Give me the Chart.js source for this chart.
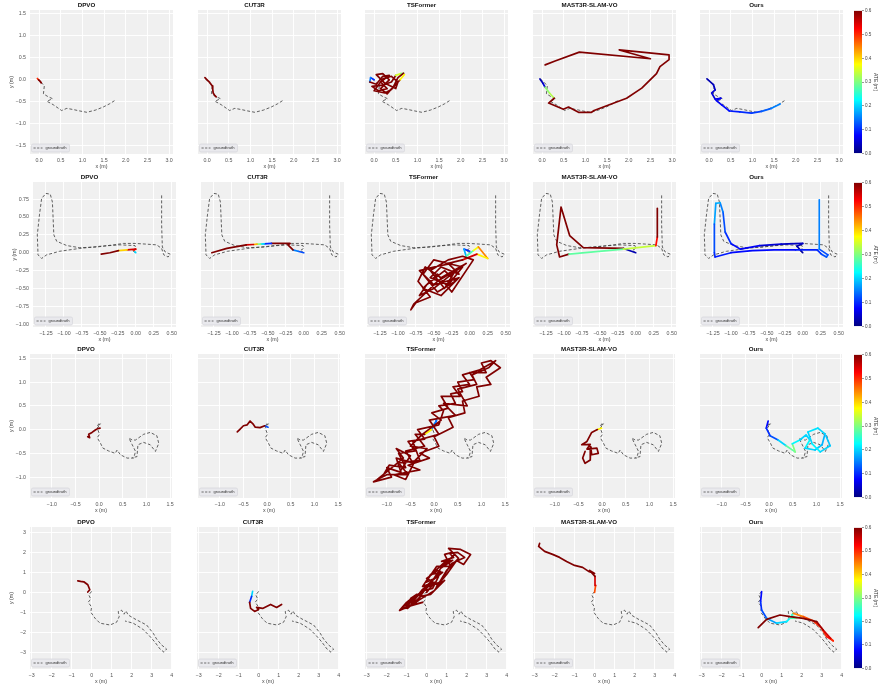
<!DOCTYPE html>
<html>
<head>
<meta charset="utf-8">
<script src="https://cdn.jsdelivr.net/npm/chart.js@4.4.1/dist/chart.umd.min.js"></script>
<style>
  body { margin: 0; background: #fff; width: 878px; height: 688px; position: relative; overflow: hidden; }
  canvas { position: absolute; }
</style>
</head>
<body>
<script>
// ---- data (metres) ----
const methods = ['DPVO', 'CUT3R', 'TSFormer', 'MAST3R-SLAM-VO', 'Ours'];

// ground truth per sequence
const gt1 = [[-0.04,0.02],[0.05,-0.06],[0.12,-0.14],[0.10,-0.32],[0.20,-0.38],[0.31,-0.43],[0.18,-0.49],[0.26,-0.53],[0.33,-0.57],[0.52,-0.70],[0.64,-0.65],[0.80,-0.68],[0.94,-0.71],[1.10,-0.74],[1.30,-0.69],[1.48,-0.62],[1.62,-0.55],[1.75,-0.47]];
const gt2 = [[0.0,0.0],[-0.05,0.03],[0.0,0.06],[-0.01,0.10],[-0.22,0.11],[-0.50,0.09],[-0.78,0.06],[-1.06,0.02],[-1.24,-0.03],[-1.31,-0.08],[-1.36,-0.03],[-1.37,0.25],[-1.34,0.53],[-1.31,0.76],[-1.25,0.83],[-1.19,0.82],[-1.16,0.71],[-1.15,0.48],[-1.14,0.25],[-1.10,0.16],[-0.96,0.10],[-0.78,0.07],[-0.54,0.08],[-0.31,0.11],[-0.17,0.13],[-0.01,0.13],[0.15,0.12],[0.29,0.11],[0.36,0.06],[0.39,-0.03],[0.45,-0.06],[0.48,-0.02],[0.41,0.01],[0.37,0.08],[0.36,0.39],[0.36,0.81]];
const gt3 = [[0.0,0.13],[-0.04,0.07],[0.03,0.12],[-0.04,0.03],[0.01,-0.10],[-0.04,-0.17],[0.03,-0.29],[0.08,-0.39],[0.20,-0.45],[0.34,-0.50],[0.38,-0.43],[0.45,-0.53],[0.59,-0.60],[0.73,-0.60],[0.77,-0.46],[0.70,-0.32],[0.63,-0.18],[0.70,-0.22],[0.77,-0.22],[0.94,-0.10],[1.08,-0.06],[1.22,-0.13],[1.26,-0.29],[1.19,-0.46],[1.08,-0.32],[0.94,-0.27],[0.82,-0.32],[0.80,-0.57],[0.70,-0.59]];
const gt4 = [[0.0,0.05],[-0.14,-0.13],[-0.04,-0.33],[-0.17,-0.49],[0.0,-0.73],[-0.04,-0.99],[0.17,-1.29],[0.42,-1.54],[0.92,-1.63],[1.25,-1.49],[1.38,-1.21],[1.33,-0.96],[1.50,-0.89],[1.62,-1.09],[1.72,-0.93],[1.83,-1.13],[2.17,-1.33],[2.75,-1.63],[3.08,-2.04],[3.25,-2.33],[3.50,-2.63],[3.75,-2.83],[3.62,-2.99],[3.42,-2.83],[3.17,-2.49],[2.88,-2.16],[2.55,-1.83],[2.08,-1.54],[1.67,-1.43]];

// sequence 1 estimates + per-point ATE
const dpvo1 = [[-0.04,0.03],[-0.01,0.0],[0.02,-0.03],[0.05,-0.07]];
const dpvo1Err = [0.5,0.8,0.8,0.8];
const cut3r1 = [[-0.05,0.05],[0.0,0.0],[0.06,-0.06],[0.12,-0.14],[0.13,-0.22],[0.14,-0.30],[0.18,-0.36],[0.21,-0.39]];
const cut3r1Err = [0.8,0.8,0.8,0.8,0.8,0.8,0.8,0.8];
const tsf1 = [[0.0,0.0],[-0.08,0.05],[-0.1,-0.05],[0.05,-0.1],[0.2,0.08],[0.35,0.1],[0.15,-0.05],[0.3,-0.2],[0.1,-0.25],[-0.05,-0.15],[0.2,-0.12],[0.4,-0.05],[0.5,0.1],[0.62,0.14],[0.68,0.15],[0.55,0.05],[0.45,-0.15],[0.3,-0.32],[0.15,-0.2],[0.35,0.0],[0.2,0.14],[0.05,0.12],[0.25,-0.08],[0.5,-0.2],[0.55,-0.05],[0.4,0.08],[0.2,0.02],[0.0,-0.25],[0.25,-0.3],[0.4,-0.22],[0.6,0.0],[0.7,0.12]];
const tsf1Err = [0.1,0.15,0.8,0.8,0.8,0.8,0.8,0.8,0.8,0.8,0.8,0.8,0.35,0.3,0.8,0.8,0.8,0.8,0.8,0.8,0.8,0.8,0.8,0.8,0.8,0.8,0.8,0.8,0.8,0.8,0.38,0.38];
const mast1 = [[-0.05,0.02],[0.02,-0.08],[0.07,-0.17],[0.17,-0.3],[0.28,-0.42],[0.15,-0.53],[0.49,-0.67],[0.61,-0.62],[0.84,-0.74],[1.14,-0.74],[1.2,-0.7],[1.49,-0.59],[1.95,-0.42],[2.30,-0.19],[2.64,0.14],[2.72,0.30],[2.93,0.46],[2.93,0.57],[1.78,0.68],[2.50,0.48],[0.86,0.63],[0.30,0.43],[0.07,0.34]];
const mast1Err = [0.03,0.05,0.31,0.33,0.8,0.8,0.8,0.8,0.8,0.8,0.8,0.8,0.8,0.8,0.8,0.8,0.8,0.8,0.8,0.8,0.8,0.8,0.8];
const ours1 = [[-0.05,0.02],[0.10,-0.11],[0.14,-0.23],[0.06,-0.30],[0.14,-0.44],[0.27,-0.42],[0.16,-0.47],[0.29,-0.57],[0.47,-0.71],[0.71,-0.73],[0.98,-0.76],[1.21,-0.72],[1.44,-0.65],[1.64,-0.55]];
const ours1Err = [0.03,0.04,0.05,0.05,0.06,0.07,0.07,0.08,0.09,0.1,0.11,0.13,0.15,0.17];

// sequence 2
const dpvo2 = [[0.0,0.0],[-0.03,0.03],[0.0,0.05],[-0.12,0.04],[-0.24,0.03],[-0.36,0.0],[-0.48,-0.02]];
const dpvo2Err = [0.2,0.5,0.55,0.4,0.8,0.8,0.8];
const cut3r2 = [[0.0,0.0],[-0.08,0.02],[-0.15,0.04],[-0.22,0.11],[-0.19,0.13],[-0.3,0.13],[-0.45,0.13],[-0.55,0.125],[-0.6,0.12],[-0.65,0.12],[-0.7,0.115],[-0.8,0.11],[-1.07,0.06],[-1.28,0.0]];
const cut3r2Err = [0.12,0.15,0.8,0.8,0.8,0.8,0.1,0.2,0.3,0.42,0.55,0.8,0.8,0.8];
const tsf2 = [[0.0,0.02],[-0.08,0.05],[-0.05,-0.05],[0.05,0.03],[0.12,0.08],[0.25,-0.08],[0.1,-0.02],[-0.1,-0.1],[-0.3,-0.15],[-0.15,-0.3],[-0.4,-0.2],[-0.55,-0.35],[-0.3,-0.45],[-0.1,-0.2],[-0.5,-0.1],[-0.65,-0.3],[-0.45,-0.55],[-0.2,-0.4],[-0.35,-0.25],[-0.6,-0.45],[-0.7,-0.6],[-0.5,-0.5],[-0.25,-0.3],[-0.05,-0.15],[-0.4,-0.35],[-0.62,-0.2],[-0.72,-0.4],[-0.55,-0.62],[-0.75,-0.7],[-0.82,-0.8],[-0.78,-0.72],[-0.6,-0.55],[-0.45,-0.4],[-0.2,-0.25],[-0.35,-0.5],[-0.55,-0.25],[-0.3,-0.1],[-0.1,-0.05],[0.05,-0.1],[-0.25,-0.55],[-0.45,-0.3],[-0.65,-0.5],[-0.4,-0.6],[-0.15,-0.35],[-0.5,-0.45],[-0.7,-0.25],[-0.5,-0.2],[-0.25,-0.15]];
const tsf2Err = [0.1,0.18,0.27,0.37,0.45,0.38,0.55,0.8,0.8,0.8,0.8,0.8,0.8,0.8,0.8,0.8,0.8,0.8,0.8,0.8,0.8,0.8,0.8,0.8,0.8,0.8,0.8,0.8,0.8,0.8,0.8,0.8,0.8,0.8,0.8,0.8,0.8,0.8,0.8,0.8,0.8,0.8,0.8,0.8,0.8,0.8,0.8,0.8];
const mast2 = [[0.0,0.0],[-0.17,0.06],[-0.73,0.07],[-0.92,0.24],[-1.04,0.64],[-1.10,0.11],[-1.06,-0.06],[-0.93,-0.02],[-0.17,0.05],[0.28,0.10],[0.30,0.22],[0.30,0.62]];
const mast2Err = [0.03,0.8,0.8,0.8,0.8,0.8,0.8,0.28,0.34,0.52,0.8,0.8];
const ours2 = [[0.0,0.0],[-0.08,0.09],[0.0,0.13],[-0.3,0.12],[-0.6,0.10],[-0.87,0.05],[-1.0,0.13],[-1.08,0.29],[-1.11,0.57],[-1.15,0.70],[-1.21,0.69],[-1.23,0.40],[-1.23,0.0],[-1.22,-0.06],[-1.0,0.0],[-0.7,0.03],[-0.4,0.04],[-0.1,0.04],[0.2,0.04],[0.26,-0.02],[0.33,-0.06],[0.35,-0.03],[0.23,0.05],[0.23,0.74]];
const ours2Err = [0.02,0.03,0.04,0.05,0.07,0.08,0.1,0.12,0.15,0.18,0.17,0.12,0.1,0.09,0.08,0.08,0.08,0.09,0.1,0.12,0.13,0.12,0.15,0.2];

// sequence 3
const dpvo3 = [[0.02,0.03],[-0.03,0.02],[-0.08,-0.01],[-0.15,-0.06],[-0.22,-0.10],[-0.20,-0.17],[-0.24,-0.15]];
const dpvo3Err = [0.8,0.8,0.8,0.8,0.8,0.8,0.8];
const cut3r3 = [[0.02,0.05],[-0.05,0.08],[-0.15,0.04],[-0.25,0.05],[-0.3,0.12],[-0.36,0.18],[-0.42,0.1],[-0.5,0.08],[-0.58,0.0],[-0.63,-0.05]];
const cut3r3Err = [0.12,0.8,0.8,0.8,0.8,0.8,0.8,0.8,0.8,0.8];
const tsf3 = [[0.0,0.05],[0.05,0.2],[-0.05,0.0],[-0.2,-0.1],[-0.4,-0.1],[-0.2,-0.35],[-0.6,-0.45],[-0.45,-0.7],[-0.8,-0.6],[-0.7,-0.9],[-1.0,-0.8],[-0.9,-1.0],[-1.28,-1.1],[-1.1,-1.0],[-0.95,-0.75],[-0.6,-0.8],[-0.75,-0.5],[-0.4,-0.45],[-0.55,-0.25],[-0.2,-0.2],[-0.35,0.0],[0.1,0.1],[0.2,0.4],[0.1,0.5],[0.45,0.55],[0.35,0.75],[0.6,0.8],[0.5,1.0],[0.85,1.05],[0.75,1.2],[1.1,1.2],[1.0,1.4],[1.2,1.45],[1.4,1.3],[1.1,1.1],[1.2,0.95],[0.9,0.9],[0.95,0.7],[0.6,0.6],[0.65,0.35],[0.3,0.25],[0.4,0.05],[0.0,-0.15],[0.1,-0.35],[-0.3,-0.5],[-0.1,-0.6],[-0.55,-0.75],[-0.3,-0.85],[-0.85,-0.95],[-0.6,-1.05],[-0.4,-0.65],[-0.15,-0.4],[-0.5,-0.35],[-0.25,-0.1],[0.15,0.2],[-0.05,0.35],[0.3,0.45],[0.15,0.7],[0.55,0.7],[0.4,0.9],[0.75,0.95],[0.6,1.15],[0.95,1.25],[1.3,1.45],[1.15,1.3],[0.8,1.15],[0.9,0.95],[0.5,0.85],[0.7,0.5],[0.2,0.55],[0.45,0.3],[-0.1,0.2],[0.1,-0.1],[-0.45,-0.25],[-0.3,-0.65],[-0.75,-0.7],[-0.55,-0.95],[-1.0,-0.95],[-1.2,-1.05],[-0.95,-0.85],[-0.65,-0.6],[-0.8,-0.4],[-0.5,-0.55],[-0.7,-0.85]];
const tsf3Err = [0.08,0.15,0.38,0.8,0.8,0.8,0.8,0.8,0.8,0.8,0.8,0.8,0.8,0.8,0.8,0.8,0.8,0.8,0.8,0.8,0.8,0.8,0.8,0.8,0.8,0.8,0.8,0.8,0.8,0.8,0.8,0.8,0.8,0.8,0.8,0.8,0.8,0.8,0.8,0.8,0.8,0.8,0.8,0.8,0.8,0.8,0.8,0.8,0.8,0.8,0.8,0.8,0.8,0.8,0.8,0.8,0.8,0.8,0.8,0.8,0.8,0.8,0.8,0.8,0.8,0.8,0.8,0.8,0.8,0.8,0.8,0.8,0.8,0.8,0.8,0.8,0.8,0.8,0.8,0.8,0.8,0.8,0.8,0.8];
const mast3 = [[-0.01,0.03],[-0.1,0.0],[-0.22,-0.06],[-0.32,-0.25],[-0.43,-0.32],[-0.25,-0.31],[-0.32,-0.41],[-0.11,-0.39],[-0.08,-0.50],[-0.22,-0.53],[-0.24,-0.36],[-0.25,-0.64],[-0.36,-0.71],[-0.41,-0.60],[-0.36,-0.46]];
const mast3Err = [0.38,0.8,0.8,0.8,0.8,0.8,0.8,0.8,0.8,0.8,0.8,0.8,0.8,0.8,0.8];
const ours3 = [[-0.02,0.18],[-0.06,0.03],[0.02,-0.13],[0.19,-0.22],[0.36,-0.34],[0.55,-0.47],[0.49,-0.30],[0.65,-0.22],[0.78,-0.11],[0.86,-0.22],[0.76,-0.39],[0.97,-0.43],[1.12,-0.32],[1.18,-0.09],[1.03,0.03],[0.82,-0.05],[0.91,-0.30],[1.08,-0.47],[1.29,-0.34],[1.20,-0.13]];
const ours3Err = [0.08,0.1,0.12,0.2,0.28,0.3,0.22,0.2,0.2,0.22,0.2,0.19,0.18,0.2,0.21,0.2,0.22,0.2,0.19,0.2];

// sequence 4
const dpvo4 = [[-0.19,0.02],[-0.09,0.13],[-0.19,0.38],[-0.39,0.53],[-0.55,0.55],[-0.69,0.58]];
const dpvo4Err = [0.8,0.8,0.8,0.8,0.8,0.8];
const cut3r4 = [[-0.3,0.05],[-0.35,-0.2],[-0.45,-0.5],[-0.4,-0.8],[-0.2,-0.95],[0.0,-0.85],[-0.1,-0.75],[0.2,-0.8],[0.6,-0.6],[0.9,-0.75],[1.15,-0.6]];
const cut3r4Err = [0.2,0.1,0.8,0.8,0.8,0.8,0.8,0.8,0.8,0.8,0.8];
const tsf4 = [[0.0,0.0],[0.4,0.5],[-0.2,0.3],[0.2,0.9],[0.8,1.0],[0.3,0.6],[0.9,1.5],[1.3,1.6],[0.7,1.2],[1.4,1.9],[1.1,2.2],[1.7,2.15],[2.2,1.9],[1.85,1.4],[1.5,1.6],[1.0,0.9],[0.5,0.3],[0.9,0.6],[0.2,-0.1],[-0.3,-0.2],[-0.6,-0.6],[-0.2,-0.5],[-0.9,-0.7],[-1.35,-0.9],[-1.0,-0.5],[-0.5,-0.1],[-0.8,-0.3],[-0.1,0.1],[0.3,0.2],[0.6,0.8],[-0.05,0.5],[0.5,1.3],[1.2,1.3],[0.9,1.9],[1.3,2.0],[1.6,1.7],[1.0,1.1],[0.4,0.1],[-0.4,-0.4],[-1.1,-0.8],[-0.6,-0.3],[-0.2,0.0],[0.3,0.55],[0.0,0.7],[0.55,1.1],[0.35,1.0],[1.0,1.6],[0.75,1.55],[1.35,1.75],[1.15,1.95],[1.55,2.0],[1.9,1.75],[1.25,1.45],[0.65,0.5],[0.1,0.3],[-0.45,-0.15],[-1.2,-0.75],[-0.95,-0.8],[-0.4,-0.3],[0.15,0.45],[0.7,1.05],[0.45,0.75],[-0.25,0.1],[-0.75,-0.55],[-0.35,-0.05]];
const tsf4Err = [0.8,0.8,0.8,0.8,0.8,0.8,0.8,0.8,0.8,0.8,0.8,0.8,0.8,0.8,0.8,0.8,0.8,0.8,0.8,0.8,0.8,0.8,0.8,0.8,0.8,0.8,0.8,0.8,0.8,0.8,0.8,0.8,0.8,0.8,0.8,0.8,0.8,0.8,0.8,0.8,0.8,0.8,0.8,0.8,0.8,0.8,0.8,0.8,0.8,0.8,0.8,0.8,0.8,0.8,0.8,0.8,0.8,0.8,0.8,0.8,0.8,0.8,0.8,0.8,0.8];
const mast4 = [[0.0,0.0],[0.05,0.35],[0.02,0.8],[-0.25,1.1],[0.0,0.95],[-0.3,1.05],[-0.6,1.25],[-1.0,1.35],[-1.4,1.55],[-1.75,1.75],[-2.1,1.9],[-2.5,2.05],[-2.8,2.3],[-2.75,2.45]];
const mast4Err = [0.48,0.55,0.8,0.8,0.8,0.8,0.8,0.8,0.8,0.8,0.8,0.8,0.8,0.8];
const ours4 = [[0.0,0.04],[-0.05,-0.46],[0.0,-0.88],[0.25,-1.29],[0.75,-1.54],[1.25,-1.46],[1.42,-1.29],[1.75,-1.29],[1.5,-1.15],[1.58,-1.04],[2.08,-1.21],[2.58,-1.42],[3.0,-1.79],[3.25,-2.21],[3.58,-2.42],[3.45,-2.3],[3.08,-1.88],[2.75,-1.46],[2.08,-1.3],[1.42,-1.21],[0.92,-1.13],[0.25,-1.35],[-0.17,-1.76]];
const ours4Err = [0.08,0.1,0.12,0.17,0.2,0.22,0.27,0.3,0.25,0.45,0.48,0.5,0.5,0.52,0.5,0.55,0.58,0.6,0.8,0.8,0.8,0.8,0.8];

// axis ranges and tick values per row
const xRanges = [[-0.21, 3.09], [-1.43, 0.56], [-1.46, 1.54], [-3.08, 4.02]];
const yRanges = [[-1.69, 1.59], [-1.04, 0.99], [-1.44, 1.59], [-3.83, 3.27]];
const xTicks = [[0, 0.5, 1, 1.5, 2, 2.5, 3], [-1.25, -1, -0.75, -0.5, -0.25, 0, 0.25, 0.5], [-1, -0.5, 0, 0.5, 1, 1.5], [-3, -2, -1, 0, 1, 2, 3, 4]];
const yTicks = [[-1.5, -1, -0.5, 0, 0.5, 1, 1.5], [-1, -0.75, -0.5, -0.25, 0, 0.25, 0.5, 0.75], [-1, -0.5, 0, 0.5, 1, 1.5], [-3, -2, -1, 0, 1, 2, 3]];
const tickDecimals = [1, 2, 1, 0];
const cbarTicks = [0, 0.1, 0.2, 0.3, 0.4, 0.5, 0.6];
const cbarMax = 0.6;

const gts = [gt1, gt2, gt3, gt4];
const preds = [
  [dpvo1, cut3r1, tsf1, mast1, ours1],
  [dpvo2, cut3r2, tsf2, mast2, ours2],
  [dpvo3, cut3r3, tsf3, mast3, ours3],
  [dpvo4, cut3r4, tsf4, mast4, ours4]
];
const errs = [
  [dpvo1Err, cut3r1Err, tsf1Err, mast1Err, ours1Err],
  [dpvo2Err, cut3r2Err, tsf2Err, mast2Err, ours2Err],
  [dpvo3Err, cut3r3Err, tsf3Err, mast3Err, ours3Err],
  [dpvo4Err, cut3r4Err, tsf4Err, mast4Err, ours4Err]
];

// ---- layout (page pixels of each plot area) ----
const rowTops = [10, 182, 354, 527];
const rowHeights = [144, 145, 144, 142];
const plotWidths = [143, 143, 142, 142];
const colLefts = [
  [30, 198, 365, 533, 700],
  [33, 201, 367, 533, 700],
  [30, 198, 365, 533, 700],
  [30, 197, 365, 533, 700]
];

const FAMILY = "'Liberation Sans', Arial, sans-serif";
const gtColor = 'rgba(60,60,60,0.8)';
Chart.defaults.font.family = FAMILY;

// jet colormap over 0..cbarMax
function jet(v) {
  const t = Math.max(0, Math.min(1, v / cbarMax));
  const c = x => Math.round(255 * Math.max(0, Math.min(1, x)));
  return 'rgb(' + c(1.5 - Math.abs(4 * t - 3)) + ',' + c(1.5 - Math.abs(4 * t - 2)) + ',' + c(1.5 - Math.abs(4 * t - 1)) + ')';
}

function fmt(v, d) {
  const s = Math.abs(v).toFixed(d);
  return (v < -1e-9 ? '\u2212' : '') + s;
}

function makeCanvas(left, top, w, h) {
  const cv = document.createElement('canvas');
  cv.width = w; cv.height = h;
  cv.style.left = left + 'px'; cv.style.top = top + 'px';
  cv.style.width = w + 'px'; cv.style.height = h + 'px';
  document.body.appendChild(cv);
  return cv;
}

const panelBg = {
  id: 'panelBg',
  beforeDraw(chart) {
    const { ctx, chartArea: a } = chart;
    ctx.save();
    ctx.fillStyle = '#f0f0f0';
    ctx.fillRect(a.left, a.top, a.right - a.left, a.bottom - a.top);
    ctx.restore();
  }
};

// small "groundtruth" legend box in the lower left corner
const gtLegend = {
  id: 'gtLegend',
  afterDraw(chart) {
    const { ctx, chartArea: a } = chart;
    const x = a.left + 1.5, y = a.bottom - 10, w = 38, h = 8;
    ctx.save();
    ctx.beginPath();
    ctx.roundRect(x, y, w, h, 1.5);
    ctx.fillStyle = 'rgba(232,232,236,0.9)';
    ctx.fill();
    ctx.strokeStyle = '#d2d2d6';
    ctx.lineWidth = 0.6;
    ctx.stroke();
    ctx.setLineDash([2.2, 1.4]);
    ctx.strokeStyle = gtColor;
    ctx.lineWidth = 0.9;
    ctx.beginPath();
    ctx.moveTo(x + 2, y + h / 2);
    ctx.lineTo(x + 11, y + h / 2);
    ctx.stroke();
    ctx.setLineDash([]);
    ctx.fillStyle = '#333';
    ctx.font = '4.1px ' + FAMILY;
    ctx.textBaseline = 'middle';
    ctx.fillText('groundtruth', x + 14, y + h / 2 + 0.2);
    ctx.restore();
  }
};

function toXY(arr) { return arr.map(p => ({ x: p[0], y: p[1] })); }

function addPanel(r, c) {
  const l = colLefts[r][c], t = rowTops[r], w = plotWidths[r], h = rowHeights[r];
  const cv = makeCanvas(l - 30, t - 10, 30 + w + 8, 10 + h + 18);
  const err = errs[r][c];
  const d = tickDecimals[r];
  const tickFont = { size: 5.3, family: FAMILY };
  new Chart(cv, {
    type: 'scatter',
    data: {
      datasets: [
        {
          data: toXY(preds[r][c]),
          showLine: true,
          borderWidth: 1.7,
          borderColor: jet(err[0]),
          borderCapStyle: 'round',
          borderJoinStyle: 'round',
          pointRadius: 0,
          segment: { borderColor: s => jet(err[s.p0DataIndex]) }
        },
        {
          data: toXY(gts[r]),
          showLine: true,
          borderWidth: 1,
          borderDash: [3, 2],
          borderColor: gtColor,
          pointRadius: 0
        }
      ]
    },
    options: {
      responsive: false,
      animation: false,
      devicePixelRatio: 1,
      events: [],
      layout: { padding: { left: 0, right: 8, top: 0, bottom: 0 } },
      plugins: {
        legend: { display: false },
        tooltip: { enabled: false },
        title: {
          display: true, text: methods[c], color: '#111',
          font: { size: 6.2, weight: 'bold', family: FAMILY, lineHeight: 1.2 },
          padding: { top: 2, bottom: 0.56 }
        }
      },
      scales: {
        x: {
          type: 'linear', min: xRanges[r][0], max: xRanges[r][1],
          afterFit: s => { s.height = 18; },
          afterBuildTicks: s => { s.ticks = xTicks[r].map(v => ({ value: v })); },
          grid: { color: '#ffffff', lineWidth: 0.9, drawTicks: false },
          border: { display: false },
          ticks: { font: tickFont, color: '#555', padding: 3, autoSkip: false, maxRotation: 0, callback: v => fmt(v, d) },
          title: { display: true, text: 'x (m)', color: '#444', font: { size: 5.3, family: FAMILY, lineHeight: 1.2 }, padding: { top: 0, bottom: 2.6 } }
        },
        y: {
          type: 'linear', min: yRanges[r][0], max: yRanges[r][1],
          afterFit: s => { s.width = 30; },
          afterBuildTicks: s => { s.ticks = yTicks[r].map(v => ({ value: v })); },
          grid: { color: '#ffffff', lineWidth: 0.9, drawTicks: false },
          border: { display: false },
          ticks: { display: c === 0, font: tickFont, color: '#555', padding: 4, autoSkip: false, callback: v => fmt(v, d) },
          title: { display: c === 0, text: 'y (m)', color: '#444', font: { size: 5.3, family: FAMILY, lineHeight: 1.2 }, padding: { top: 7.9, bottom: 0 } }
        }
      }
    },
    plugins: [panelBg, gtLegend]
  });
}

function jetGradient(chart) {
  const a = chart.chartArea;
  if (!a) return jet(0.3);
  const g = chart.ctx.createLinearGradient(0, a.bottom, 0, a.top);
  for (let i = 0; i <= 24; i++) g.addColorStop(i / 24, jet(cbarMax * i / 24));
  return g;
}

function addColorbar(r) {
  const t = rowTops[r], h = rowHeights[r];
  const cv = makeCanvas(850, t - 3, 28, h + 6);
  new Chart(cv, {
    type: 'bar',
    data: {
      labels: [''],
      datasets: [{
        data: [cbarMax],
        backgroundColor: ctx => jetGradient(ctx.chart),
        borderWidth: 0,
        barPercentage: 1,
        categoryPercentage: 1
      }]
    },
    options: {
      responsive: false,
      animation: false,
      devicePixelRatio: 1,
      events: [],
      layout: { padding: { left: 4, right: 0, top: 3, bottom: 3 } },
      plugins: { legend: { display: false }, tooltip: { enabled: false } },
      scales: {
        x: { display: false },
        y: {
          position: 'right', min: 0, max: cbarMax,
          afterFit: s => { s.width = 16; },
          afterBuildTicks: s => { s.ticks = cbarTicks.map(v => ({ value: v })); },
          grid: { drawOnChartArea: false, drawTicks: true, tickLength: 2, color: '#555', lineWidth: 0.6 },
          border: { display: false },
          ticks: { padding: 1, font: { size: 4.6, family: FAMILY }, color: '#444', autoSkip: false, callback: v => v.toFixed(1) },
          title: { display: true, text: 'ATE (m)', color: '#333', font: { size: 5, family: FAMILY, lineHeight: 1.2 }, padding: { top: 0, bottom: 0 } }
        }
      }
    }
  });
}

for (let r = 0; r < 4; r++) {
  for (let c = 0; c < 5; c++) addPanel(r, c);
  addColorbar(r);
}
</script>
</body>
</html>
